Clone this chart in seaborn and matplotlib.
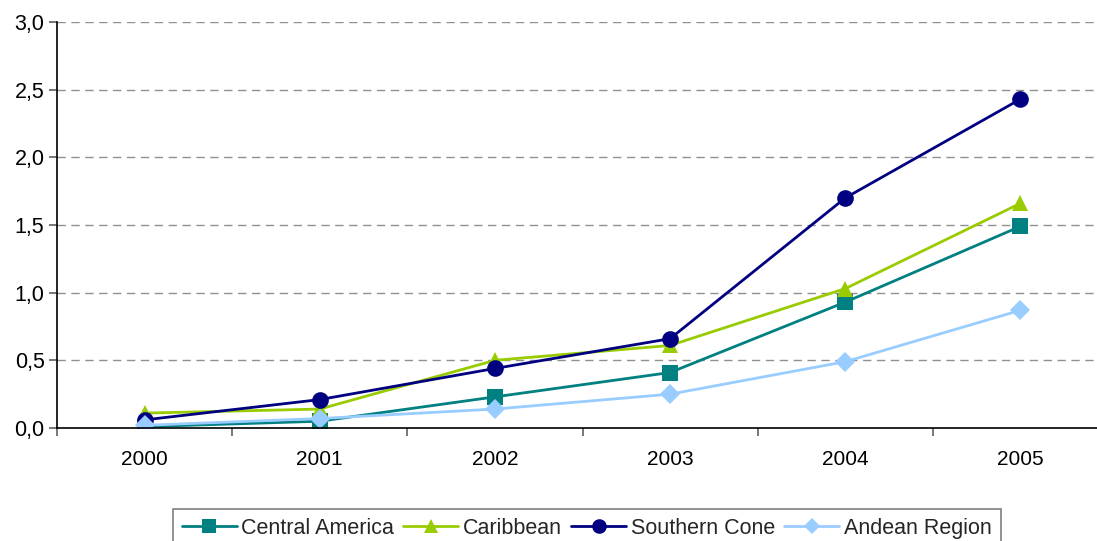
import matplotlib
matplotlib.use("Agg")
import matplotlib.pyplot as plt
import seaborn as sns
import pandas as pd
from matplotlib.ticker import FuncFormatter, MultipleLocator

years = ["2000", "2001", "2002", "2003", "2004", "2005"]
central_america = [0.01, 0.05, 0.23, 0.41, 0.93, 1.49]
caribbean = [0.11, 0.14, 0.50, 0.61, 1.03, 1.66]
southern_cone = [0.06, 0.21, 0.44, 0.66, 1.70, 2.43]
andean_region = [0.02, 0.07, 0.14, 0.25, 0.49, 0.87]

series = {
    "Central America": central_america,
    "Caribbean": caribbean,
    "Southern Cone": southern_cone,
    "Andean Region": andean_region,
}
colors = {
    "Central America": "#008080",
    "Caribbean": "#99CC00",
    "Southern Cone": "#000080",
    "Andean Region": "#99CCFF",
}
markers = {
    "Central America": "s",
    "Caribbean": "^",
    "Southern Cone": "o",
    "Andean Region": "D",
}
msizes = {
    "Central America": 11,
    "Caribbean": 12,
    "Southern Cone": 12,
    "Andean Region": 10,
}

rows = []
for name, vals in series.items():
    for i, v in enumerate(vals):
        rows.append({"pos": i, "year": years[i], "region": name, "value": v})
df = pd.DataFrame(rows)

sns.set_theme(style="white")
plt.rcParams["font.family"] = ["Liberation Sans", "DejaVu Sans"]

fig = plt.figure(figsize=(10.97, 5.41), dpi=100)
W, H = 1097, 541
ax = fig.add_axes([57 / W, 1 - 428 / H, 1051 / W, (428 - 22) / H])

for name in series:
    sub = df[df["region"] == name]
    sns.lineplot(
        data=sub, x="pos", y="value", color=colors[name], marker=markers[name],
        ax=ax, linewidth=2.0, markersize=msizes[name], markeredgewidth=0,
        legend=False,
    )

ax.set_xlim(-0.5, 5.5)
ax.set_ylim(0, 3.0)
ax.yaxis.set_major_locator(MultipleLocator(0.5))
ax.yaxis.set_major_formatter(FuncFormatter(lambda v, p: f"{v:.1f}".replace(".", ",")))
ax.set_xticks([i - 0.5 for i in range(7)])
ax.set_xticklabels([])
ax.set_xticks(range(6), minor=True)
ax.set_xticklabels(years, minor=True)
ax.tick_params(axis="x", which="major", direction="out", length=6, width=1.2,
               color="#606060", bottom=True)
ax.tick_params(axis="x", which="minor", length=0, pad=16, labelsize=15, colors="black")
ax.tick_params(axis="y", direction="out", length=6, width=1.2, color="#606060",
               left=True, labelsize=15.5, labelcolor="black", pad=3)
ax.set_xlabel("")
ax.set_ylabel("")

for v in [0.5, 1.0, 1.5, 2.0, 2.5, 3.0]:
    ax.axhline(v, color="#909090", linestyle=(0, (6, 4)), linewidth=1.0, zorder=0)

for s in ["top", "right"]:
    ax.spines[s].set_visible(False)
for s in ["left", "bottom"]:
    ax.spines[s].set_color("black")
    ax.spines[s].set_linewidth(1.2)

handles = [
    plt.Line2D([], [], color=colors[n], marker=markers[n], markersize=msizes[n] - 1.5,
               markeredgewidth=0, linewidth=2.0, label=n)
    for n in series
]
leg = fig.legend(
    handles=handles, loc="upper left", bbox_to_anchor=(173 / W, 1 - 509 / H),
    ncol=4, frameon=True, fancybox=False, fontsize=15.5, handlelength=2.55,
    handletextpad=0.23, columnspacing=0.42, borderpad=0.4, borderaxespad=0,
)
leg.get_frame().set_edgecolor("#606060")
leg.get_frame().set_linewidth(1.2)

fig.savefig("out.png", dpi=100)
